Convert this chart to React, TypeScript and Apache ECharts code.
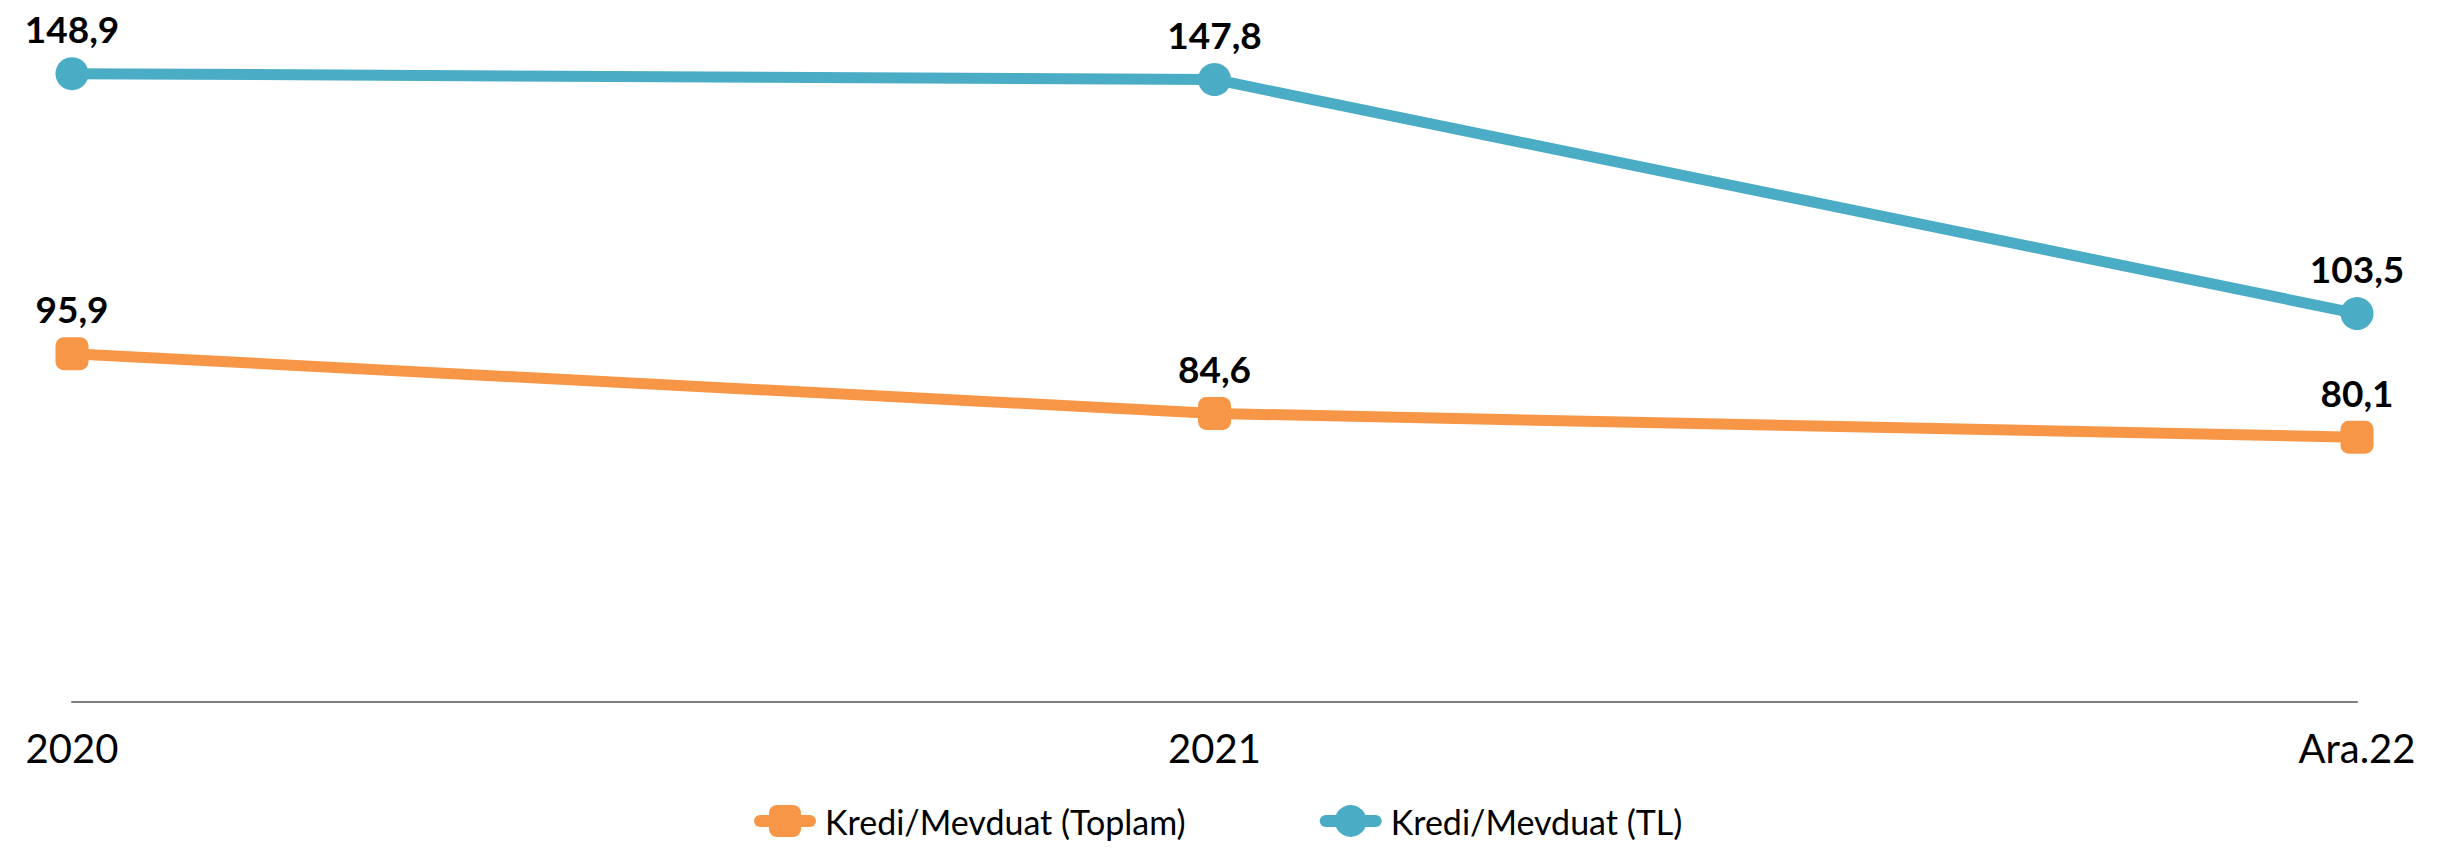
import React, { useEffect, useRef } from "react";
import * as echarts from "echarts";

const categories = ["2020", "2021", "Ara.22"];
const toplamValues = [95.9, 84.6, 80.1];
const tlValues = [148.9, 147.8, 103.5];
const seriesNames = ["Kredi/Mevduat (Toplam)", "Kredi/Mevduat (TL)"];

const ORANGE = "#F79646";
const BLUE = "#4BACC6";

export default function App() {
  const ref = useRef<HTMLDivElement>(null);
  useEffect(() => {
    if (!ref.current) return;
    const chart = echarts.init(ref.current, null, { renderer: "svg" });
    const fmt = (p: any) => String(p.value).replace(".", ",");
    const labelStyle = {
      show: true,
      position: "top",
      distance: 10,
      fontFamily: "Lato, 'Open Sans', sans-serif",
      fontWeight: "bold",
      fontSize: 37,
      color: "#000",
      formatter: fmt,
    };
    chart.setOption({
      animation: false,
      backgroundColor: "#ffffff",
      grid: { left: 72, right: 83, top: 15, bottom: 151, containLabel: false },
      legend: {
        left: 754,
        top: 804,
        padding: 0,
        itemWidth: 50,
        itemHeight: 40,
        itemGap: 134,
        lineStyle: { width: 12, cap: "round" },
        textStyle: {
          fontFamily: "Lato, 'Open Sans', sans-serif",
          fontSize: 34,
          color: "#000",
          padding: [0, 0, 0, 10],
        },
        data: seriesNames,
      },
      xAxis: {
        type: "category",
        data: categories,
        boundaryGap: false,
        axisLine: { lineStyle: { color: "#7f7f7f", width: 2 } },
        axisTick: { show: false },
        axisLabel: {
          fontFamily: "Lato, 'Open Sans', sans-serif",
          fontSize: 40,
          color: "#000",
          margin: 26,
        },
        splitLine: { show: false },
      },
      yAxis: {
        type: "value",
        min: 30,
        max: 160,
        show: false,
        splitLine: { show: false },
      },
      series: [
        {
          name: seriesNames[0],
          type: "line",
          data: toplamValues,
          symbol: "roundRect",
          symbolSize: 33,
          lineStyle: { color: ORANGE, width: 11 },
          itemStyle: { color: ORANGE },
          label: labelStyle,
        },
        {
          name: seriesNames[1],
          type: "line",
          data: tlValues,
          symbol: "circle",
          symbolSize: 33,
          lineStyle: { color: BLUE, width: 11 },
          itemStyle: { color: BLUE },
          label: labelStyle,
        },
      ],
    });
    return () => chart.dispose();
  }, []);
  return (
    <div
      ref={ref}
      style={{ position: "fixed", left: 0, top: 0, width: 2440, height: 853, background: "#fff" }}
    />
  );
}
